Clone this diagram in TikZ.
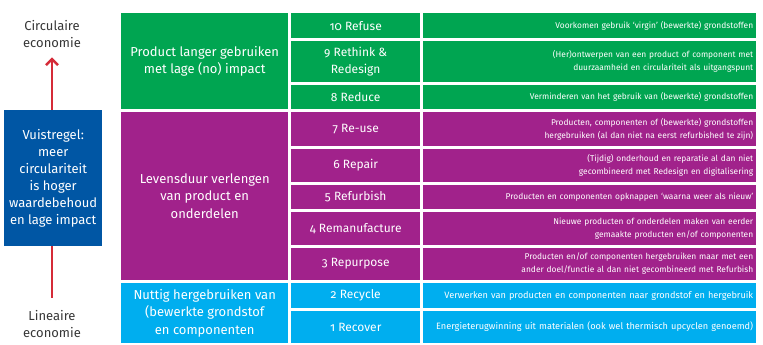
\documentclass[tikz,border=0pt]{standalone}
\usepackage{fontspec}
\setmainfont{Fira Sans}[Numbers=OldStyle]
\usetikzlibrary{positioning,arrows.meta}
\definecolor{groen}{RGB}{0,165,81}
\definecolor{paars}{RGB}{161,34,139}
\definecolor{cyaan}{RGB}{0,174,239}
\definecolor{donkerblauw}{RGB}{0,86,164}
\definecolor{rood}{RGB}{213,43,56}
\definecolor{tekstgrijs}{RGB}{55,55,55}
\tikzset{
  cel/.style={anchor=north west, inner sep=0pt, text=white, align=center},
  groep/.style={cel, minimum width=167pt, font=\fontsize{13}{17.5}\selectfont},
  stap/.style={cel, minimum width=129pt, font=\fontsize{12}{17}\selectfont},
  uitleg/.style={cel, text width=327pt, inner xsep=3pt, align=right,
                 font=\fontsize{8.4}{13}\selectfont},
  lbl/.style={align=center, text=tekstgrijs, font=\fontsize{13}{17.5}\selectfont},
  pijl/.style={-{Straight Barb[length=6pt,width=12pt,line width=2.5pt]}, rood, line width=2.5pt},
}

\begin{document}
\begin{tikzpicture}[x=1pt, y=-1pt]
        \useasboundingbox (0,0) rectangle (763,345);
        % linker as
        \node[lbl] (circ) at (52,34) {Circulaire\\economie};
        \node[lbl] (lin) at (52,324) {Lineaire\\economie};
        \draw[pijl, shorten <=9pt, shorten >=6pt] (lin.north) -- (circ.south);
        \node[cel, fill=donkerblauw, minimum width=98pt, minimum height=136pt,
              font=\fontsize{13}{17}\selectfont] (regel) at (4,110)
          {Vuistregel:\\meer\\circulariteit\\is hoger\\waardebehoud\\en lage impact};
        % groepen
        \node[groep, fill=groen, minimum height=96pt] (gebruik) at (121,13)
          {Product langer gebruiken\\met lage (no) impact};
        \node[groep, fill=paars, minimum height=168.5pt] (levensduur) at (121,111.5)
          {Levensduur verlengen\\van product en\\onderdelen};
        \node[groep, fill=cyaan, minimum height=60.5pt] (nuttig) at (121,282.5)
          {Nuttig hergebruiken van\\(bewerkte grondstof\\en componenten};
        % R-stappen
        \node[stap, fill=groen, minimum height=25pt] (r10) at (291,13) {10 Refuse};
        \node[stap, fill=groen, minimum height=41.5pt] (r9) at (291,40.5) {9 Rethink \&\\Redesign};
        \node[stap, fill=groen, minimum height=24.5pt] (r8) at (291,84.5) {8 Reduce};
        \node[stap, fill=paars, minimum height=34.5pt] (r7) at (291,111.5) {7 Re-use};
        \node[stap, fill=paars, minimum height=33.5pt] (r6) at (291,148.5) {6 Repair};
        \node[stap, fill=paars, minimum height=24.5pt] (r5) at (291,184.5) {5 Refurbish};
        \node[stap, fill=paars, minimum height=33.5pt] (r4) at (291,211.5) {4 Remanufacture};
        \node[stap, fill=paars, minimum height=32.5pt] (r3) at (291,247.5) {3 Repurpose};
        \node[stap, fill=cyaan, minimum height=25.5pt] (r2) at (291,282.5) {2 Recycle};
        \node[stap, fill=cyaan, minimum height=32.5pt] (r1) at (291,310.5) {1 Recover};
        % toelichting
        \node[uitleg, fill=groen, minimum height=25pt] (u10) at (423,13)
          {Voorkomen gebruik ‘virgin’ (bewerkte) grondstoffen};
        \node[uitleg, fill=groen, minimum height=41.5pt] (u9) at (423,40.5)
          {(Her)ontwerpen van een product of component met\\duurzaamheid en circulariteit als uitgangspunt};
        \node[uitleg, fill=groen, minimum height=24.5pt] (u8) at (423,84.5)
          {Verminderen van het gebruik van (bewerkte) grondstoffen};
        \node[uitleg, fill=paars, minimum height=34.5pt] (u7) at (423,111.5)
          {Producten, componenten of (bewerkte) grondstoffen\\hergebruiken (al dan niet na eerst refurbished te zijn)};
        \node[uitleg, fill=paars, minimum height=33.5pt] (u6) at (423,148.5)
          {(Tijdig) onderhoud en reparatie al dan niet\\gecombineerd met Redesign en digitalisering};
        \node[uitleg, fill=paars, minimum height=24.5pt] (u5) at (423,184.5)
          {Producten en componenten opknappen ‘waarna weer als nieuw’};
        \node[uitleg, fill=paars, minimum height=33.5pt] (u4) at (423,211.5)
          {Nieuwe producten of onderdelen maken van eerder\\gemaakte producten en/of componenten};
        \node[uitleg, fill=paars, minimum height=32.5pt] (u3) at (423,247.5)
          {Producten en/of componenten hergebruiken maar met een\\ander doel/functie al dan niet gecombineerd met Refurbish};
        \node[uitleg, fill=cyaan, minimum height=25.5pt, font=\fontsize{9.2}{12}\selectfont] (u2) at (423,282.5)
          {Verwerken van producten en componenten naar grondstof en hergebruik};
        \node[uitleg, fill=cyaan, minimum height=32.5pt, font=\fontsize{9.2}{12}\selectfont] (u1) at (423,310.5)
          {Energieterugwinning uit materialen (ook wel thermisch upcyclen genoemd)};
      \end{tikzpicture}
\end{document}
